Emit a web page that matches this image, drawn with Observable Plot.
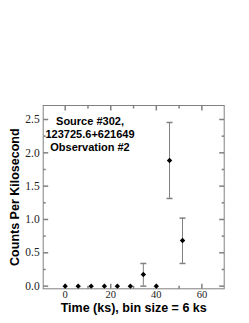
<!DOCTYPE html>
<html>
<head>
<meta charset="utf-8">
<script src="https://cdn.jsdelivr.net/npm/d3@7"></script>
<script src="https://cdn.jsdelivr.net/npm/@observablehq/plot@0.6"></script>
<style>
  html, body { margin: 0; padding: 0; background: #fff; }
</style>
</head>
<body>
<div id="chart"></div>
<script>
// Data
const timeKs = [0, 5.7, 11.4, 17.2, 22.9, 28.6, 34.3, 40.0, 45.8, 51.5];
const rate   = [0, 0, 0, 0, 0, 0, 0.175, 0, 1.885, 0.685];
const errLo  = [null, null, null, null, null, null, 0.0, null, 1.315, 0.34];
const errHi  = [null, null, null, null, null, null, 0.34, null, 2.455, 1.02];
const xTicks = [0, 20, 40, 60];
const xMinor = [10, 30, 50];
const yTicks = [0, 0.5, 1.0, 1.5, 2.0, 2.5];
const yMinor = [0.25, 0.75, 1.25, 1.75, 2.25];
const annotation = ["Source #302,", "123725.6+621649", "Observation #2"];
const xTitle = "Time (ks), bin size = 6 ks";
const yTitle = "Counts Per Kilosecond";

const points = timeKs.map((t, i) => ({t, r: rate[i]}));
const errs = timeKs.map((t, i) => ({t, lo: errLo[i], hi: errHi[i]})).filter(d => d.lo != null);

const gray = "#808080";
const seg = (dx, dy) => ({draw(ctx) { ctx.moveTo(0, 0); ctx.lineTo(dx, dy); }});
const cap = {draw(ctx) { ctx.moveTo(-3, 0); ctx.lineTo(3, 0); }};
const diamond = {draw(ctx) { const s = 2.7; ctx.moveTo(0, -s); ctx.lineTo(s, 0); ctx.lineTo(0, s); ctx.lineTo(-s, 0); ctx.closePath(); }};
const serif = "'Liberation Serif', 'Times New Roman', serif";
const sans = "'Liberation Sans', Arial, Helvetica, sans-serif";

const chart = Plot.plot({
  width: 249,
  height: 323,
  marginLeft: 42.7,
  marginRight: 25.3,
  marginTop: 105,
  marginBottom: 34.7,
  style: {background: "#fff", color: "#222", overflow: "visible"},
  x: {domain: [-9.66, 69.8]},
  y: {domain: [-0.04, 2.71]},
  marks: [
    Plot.frame({stroke: gray, strokeWidth: 1}),
    // inward ticks
    Plot.dot(xTicks, {x: d => d, frameAnchor: "bottom", symbol: seg(0, -5), fill: "none", stroke: gray}),
    Plot.dot(xMinor, {x: d => d, frameAnchor: "bottom", symbol: seg(0, -3), fill: "none", stroke: gray}),
    Plot.dot(xTicks, {x: d => d, frameAnchor: "top", symbol: seg(0, 5), fill: "none", stroke: gray}),
    Plot.dot(xMinor, {x: d => d, frameAnchor: "top", symbol: seg(0, 3), fill: "none", stroke: gray}),
    Plot.dot(yTicks, {y: d => d, frameAnchor: "left", symbol: seg(5, 0), fill: "none", stroke: gray}),
    Plot.dot(yMinor, {y: d => d, frameAnchor: "left", symbol: seg(2.5, 0), fill: "none", stroke: gray}),
    Plot.dot(yTicks, {y: d => d, frameAnchor: "right", symbol: seg(-5, 0), fill: "none", stroke: gray}),
    Plot.dot(yMinor, {y: d => d, frameAnchor: "right", symbol: seg(-2.5, 0), fill: "none", stroke: gray}),
    // tick labels
    Plot.axisX({ticks: xTicks, tickSize: 0, tickPadding: 2, tickFormat: d => String(d), label: null,
      fontFamily: serif, fontSize: 10.5}),
    Plot.axisY({ticks: yTicks, tickSize: 0, tickPadding: 3.5, tickFormat: d => d.toFixed(1), label: null,
      fontFamily: serif, fontSize: 11.5}),
    // error bars
    Plot.ruleX(errs, {x: "t", y1: "lo", y2: "hi", stroke: gray, strokeWidth: 1}),
    Plot.dot(errs, {x: "t", y: "lo", symbol: cap, fill: "none", stroke: gray}),
    Plot.dot(errs, {x: "t", y: "hi", symbol: cap, fill: "none", stroke: gray}),
    // points
    Plot.dot(points, {x: "t", y: "r", symbol: diamond, fill: "#000", stroke: "none"}),
    // annotation
    Plot.text([annotation.join("\n")], {frameAnchor: "top-left", dx: 46.8, dy: 9.7, lineAnchor: "top",
      textAnchor: "middle", lineHeight: 1.2, fontFamily: sans, fontWeight: "bold", fontSize: 11, fill: "#000"}),
    // axis titles
    Plot.text([xTitle], {frameAnchor: "bottom", dy: 19, lineAnchor: "middle", textAnchor: "middle",
      fontFamily: sans, fontWeight: "bold", fontSize: 12.5, fill: "#000"}),
    Plot.text([yTitle], {frameAnchor: "left", dx: -28.7, rotate: -90, lineAnchor: "middle", textAnchor: "middle",
      fontFamily: sans, fontWeight: "bold", fontSize: 12.5, fill: "#000"})
  ]
});
document.getElementById("chart").appendChild(chart);
</script>
</body>
</html>
